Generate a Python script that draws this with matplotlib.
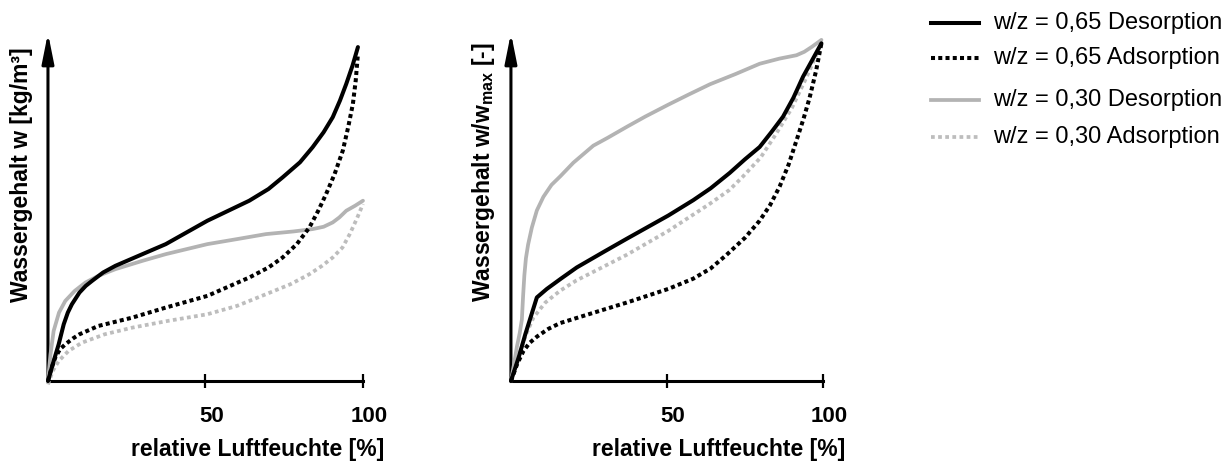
import matplotlib
matplotlib.use("Agg")
import matplotlib.pyplot as plt
from matplotlib.lines import Line2D
from matplotlib.transforms import ScaledTranslation

plt.rcParams['font.family'] = ['Liberation Sans', 'DejaVu Sans']
plt.rcParams['mathtext.fontset'] = 'custom'
plt.rcParams['mathtext.rm'] = 'Liberation Sans'
plt.rcParams['mathtext.bf'] = 'Liberation Sans:bold'

# Sorptionsisothermen, absoluter Wassergehalt (relative Einheiten)
abs_des65_x = [0, 1.5, 3.4, 5.0, 6.3, 7.6, 10, 12, 14, 17.5, 21.4, 30, 37.4, 50.6, 63.9, 70, 74.5,
               80, 84, 87.5, 90.4, 92.7, 94.7, 96.7, 98.4]
abs_des65_y = [0, 0.05, 0.11, 0.17, 0.205, 0.23, 0.265, 0.285, 0.30, 0.325, 0.345, 0.38, 0.41, 0.48,
               0.54, 0.575, 0.61, 0.655, 0.70, 0.745, 0.79, 0.84, 0.89, 0.945, 1.0]

abs_ads65_x = [0, 1.0, 2.3, 3.8, 5.5, 8, 10, 16, 26.8, 37.4, 50.6, 63.9, 70, 74.5, 79, 83, 85.8,
               88.3, 91, 93.6, 95.3, 96.8, 97.7, 98.4]
abs_ads65_y = [0, 0.035, 0.07, 0.095, 0.11, 0.128, 0.14, 0.165, 0.19, 0.22, 0.255, 0.31, 0.34,
               0.37, 0.41, 0.46, 0.51, 0.56, 0.62, 0.69, 0.76, 0.83, 0.90, 0.98]

abs_des30_x = [0, 0.8, 1.8, 3.5, 5.5, 8.5, 11.9, 16, 21.4, 30, 37.4, 50.6, 60, 69.2, 78, 84,
               87.5, 90.4, 92.5, 94.7, 97.5, 100]
abs_des30_y = [0, 0.08, 0.15, 0.205, 0.24, 0.27, 0.295, 0.315, 0.335, 0.36, 0.38, 0.41, 0.425,
               0.44, 0.448, 0.455, 0.462, 0.475, 0.49, 0.51, 0.525, 0.54]

abs_ads30_x = [0, 1.5, 3.4, 6.5, 10.8, 18, 26.8, 38, 50.6, 60, 69.2, 77, 83, 87, 90.4, 93.5,
               95.8, 98, 100]
abs_ads30_y = [-0.01, 0.03, 0.06, 0.09, 0.115, 0.14, 0.16, 0.18, 0.20, 0.225, 0.26, 0.29, 0.32,
               0.345, 0.37, 0.40, 0.44, 0.485, 0.53]

# Normierter Wassergehalt w/w_max
rel_des65_x = [0, 2.5, 4.6, 8.3, 11.5, 16, 21.1, 30, 37.1, 50.4, 58.4, 64, 70.1, 75, 79.7, 83.5,
               87.2, 90.5, 93.6, 96.5, 99.5]
rel_des65_y = [0, 0.07, 0.137, 0.245, 0.27, 0.30, 0.333, 0.38, 0.417, 0.485, 0.53, 0.565, 0.61,
               0.65, 0.686, 0.73, 0.775, 0.83, 0.892, 0.94, 0.99]

rel_ads65_x = [0, 2.0, 4.0, 6, 8.3, 12, 15.8, 26.4, 37.1, 50.4, 58.4, 64, 69.1, 75, 79.7, 83,
               86.1, 89, 91.5, 93.8, 95.7, 97.8, 99.5]
rel_ads65_y = [0, 0.05, 0.088, 0.112, 0.13, 0.153, 0.17, 0.20, 0.23, 0.27, 0.30, 0.33, 0.37,
               0.42, 0.47, 0.515, 0.57, 0.635, 0.705, 0.77, 0.83, 0.91, 0.99]

rel_des30_x = [0, 1.0, 1.9, 2.8, 3.5, 3.9, 4.3, 4.8, 5.5, 6.7, 8.3, 10.4, 13, 15.8, 20, 26.4, 31,
               37.1, 43, 50.4, 57, 63.8, 72, 79.7, 86, 91.5, 94, 96.5, 99.5]
rel_des30_y = [0, 0.05, 0.10, 0.14, 0.18, 0.25, 0.31, 0.36, 0.40, 0.45, 0.50, 0.54, 0.575, 0.60,
               0.64, 0.69, 0.713, 0.745, 0.775, 0.81, 0.84, 0.87, 0.90, 0.93, 0.945, 0.955, 0.965,
               0.98, 1.0]

rel_ads30_x = [0, 1.5, 3.0, 5, 7.2, 11, 15.8, 21, 26.4, 37.1, 50.4, 63.8, 70, 74.4, 80, 85,
               90, 94.7, 99.5]
rel_ads30_y = [0, 0.045, 0.088, 0.14, 0.186, 0.23, 0.265, 0.295, 0.32, 0.37, 0.44, 0.52, 0.56,
               0.60, 0.655, 0.725, 0.80, 0.89, 0.99]

labels = ['w/z = 0,65 Desorption', 'w/z = 0,65 Adsorption',
          'w/z = 0,30 Desorption', 'w/z = 0,30 Adsorption']

black = '#000000'
grey = '#b3b3b3'
grey_dot = '#bdbdbd'
styles = [
    dict(color=black, lw=2.9, ls='-'),
    dict(color=black, lw=2.9, ls=(0, (1, 0.8))),
    dict(color=grey, lw=2.7, ls='-'),
    dict(color=grey_dot, lw=2.7, ls=(0, (1, 0.9))),
]

fig = plt.figure(figsize=(12.3, 4.63), dpi=100)

ax1 = fig.add_axes([0.039, 0.177, 0.2561, 0.7516])
ax2 = fig.add_axes([0.4154, 0.177, 0.2537, 0.7516])

panels = [
    (ax1, [(abs_des65_x, abs_des65_y), (abs_ads65_x, abs_ads65_y),
           (abs_des30_x, abs_des30_y), (abs_ads30_x, abs_ads30_y)],
     1.042, 'Wassergehalt w [kg/m³]', -0.048, 0.592),
    (ax2, [(rel_des65_x, rel_des65_y), (rel_ads65_x, rel_ads65_y),
           (rel_des30_x, rel_des30_y), (rel_ads30_x, rel_ads30_y)],
     1.02, r'Wassergehalt w/w$_{\mathbf{max}}$ [-]', -0.045, 0.60),
]

order = [3, 2, 1, 0]
for ax, curves, ytop, ylab, lx, ly in panels:
    for z, i in enumerate(order):
        x, y = curves[i]
        ax.plot(x, y, solid_joinstyle='round', solid_capstyle='round',
                clip_on=False, zorder=3 + z, **styles[i])
    ax.set_xlim(0, 100)
    ax.set_ylim(0, ytop)
    for s in ['top', 'right', 'left']:
        ax.spines[s].set_visible(False)
    ax.spines['bottom'].set_linewidth(2.2)
    ax.set_yticks([])
    ax.set_xticks([50, 100])
    ax.set_xticklabels(['50', '100'], fontsize=16, fontweight='bold')
    ax.tick_params(axis='x', direction='inout', length=10, width=1.6, pad=13)
    for lbl in ax.get_xticklabels():
        lbl.set_transform(lbl.get_transform() + ScaledTranslation(0.06, 0, fig.dpi_scale_trans))
    # y-Achse als Pfeil
    ax.annotate('', xy=(0, 1), xytext=(0, 0), xycoords='axes fraction',
                arrowprops=dict(arrowstyle='-|>,head_length=1.0,head_width=0.2',
                                lw=2.2, color='k', mutation_scale=18,
                                shrinkA=0, shrinkB=0))
    ax.set_ylabel(ylab, fontsize=16.5, fontweight='bold')
    ax.yaxis.set_label_coords(lx, ly)
    ax.set_xlabel('relative Luftfeuchte [%]', fontsize=16.5, fontweight='bold')
    ax.xaxis.set_label_coords(0.667, -0.164)

# Legende
leg_y = [23, 58, 100, 137]
H = 463.0
W = 1230.0
for i, yy in enumerate(leg_y):
    fy = 1 - yy / H
    st = styles[i]
    fig.add_artist(Line2D([931 / W, 979 / W], [fy, fy], transform=fig.transFigure,
                          color=st['color'], lw=st['lw'], ls=st['ls']))
    fig.text(993 / W, fy, labels[i], fontsize=17, va='center', ha='left')

fig.savefig('out.png', dpi=100)
